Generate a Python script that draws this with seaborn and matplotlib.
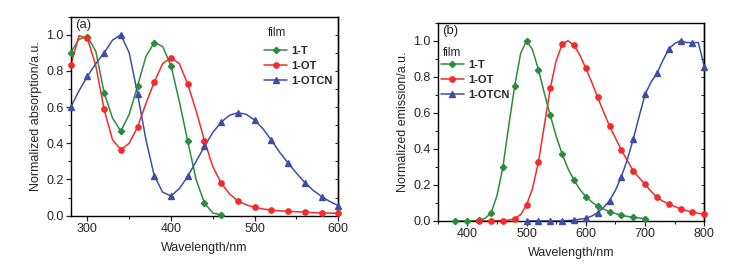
import numpy as np
import pandas as pd
import matplotlib
matplotlib.use("Agg")
import matplotlib.pyplot as plt
import seaborn as sns
from matplotlib.lines import Line2D
from matplotlib.ticker import MultipleLocator

# ---- (a) absorption, markers every 20 nm ----
abs_wl = [280, 300, 320, 340, 360, 380, 400, 420, 440, 460, 480, 500, 520, 540, 560, 580, 600]
abs_T = [0.90, 0.99, 0.68, 0.467, 0.717, 0.957, 0.828, 0.411, 0.069, 0.004]
abs_OT = [0.83, 0.98, 0.587, 0.365, 0.49, 0.739, 0.874, 0.726, 0.415, 0.18, 0.081, 0.046,
          0.031, 0.024, 0.02, 0.015, 0.013]
abs_OTCN = [0.60, 0.77, 0.90, 1.0, 0.674, 0.22, 0.109, 0.217, 0.383, 0.517, 0.569, 0.528,
            0.417, 0.291, 0.183, 0.106, 0.056]

# smooth curve traces (10 nm)
abs_line_wl = [280, 290, 300, 310, 320, 330, 340, 350, 360, 370, 380, 390, 400, 410, 420,
               430, 440, 450, 460, 470, 480, 490, 500, 510, 520, 530, 540, 550, 560, 570,
               580, 590, 600]
abs_T_line = [0.90, 0.975, 0.99, 0.91, 0.68, 0.54, 0.467, 0.56, 0.717, 0.88, 0.957, 0.935,
              0.828, 0.63, 0.411, 0.20, 0.069, 0.015, 0.004]
abs_OT_line = [0.83, 0.995, 0.98, 0.83, 0.587, 0.42, 0.365, 0.40, 0.49, 0.62, 0.739, 0.84,
               0.874, 0.84, 0.726, 0.58, 0.415, 0.27, 0.18, 0.12, 0.081, 0.06, 0.046, 0.037,
               0.031, 0.027, 0.024, 0.022, 0.02, 0.017, 0.015, 0.014, 0.013]
abs_OTCN_line = [0.60, 0.69, 0.77, 0.84, 0.90, 0.97, 1.0, 0.90, 0.674, 0.42, 0.22, 0.13,
                 0.109, 0.15, 0.217, 0.30, 0.383, 0.46, 0.517, 0.555, 0.569, 0.56, 0.528,
                 0.48, 0.417, 0.35, 0.291, 0.235, 0.183, 0.14, 0.106, 0.078, 0.056]

# ---- (b) emission, markers every 20 nm ----
em_T_wl = [380, 400, 420, 440, 460, 480, 500, 520, 540, 560, 580, 600, 620, 640, 660, 680, 700]
em_T = [0.0, 0.0, 0.003, 0.043, 0.298, 0.75, 1.0, 0.84, 0.586, 0.372, 0.227, 0.135, 0.083,
        0.052, 0.031, 0.02, 0.013]
em_OT_wl = [420, 440, 460, 480, 500, 520, 540, 560, 580, 600, 620, 640, 660, 680, 700, 720,
            740, 760, 780, 800]
em_OT = [0.0, 0.0, 0.002, 0.013, 0.089, 0.327, 0.736, 0.98, 0.976, 0.847, 0.686, 0.527, 0.394,
         0.279, 0.203, 0.131, 0.094, 0.067, 0.048, 0.037]
em_OTCN_wl = [500, 520, 540, 560, 580, 600, 620, 640, 660, 680, 700, 720, 740, 760, 780, 800]
em_OTCN = [0.0, 0.0, 0.0, 0.0, 0.005, 0.015, 0.046, 0.113, 0.246, 0.453, 0.702, 0.819, 0.954,
           1.0, 0.989, 0.856]

em_T_line_wl = [380, 400, 420, 430, 440, 450, 460, 470, 480, 490, 500, 510, 520, 530, 540, 550,
                560, 570, 580, 590, 600, 610, 620, 630, 640, 660, 680, 700]
em_T_line = [0.0, 0.0, 0.003, 0.015, 0.043, 0.14, 0.298, 0.53, 0.75, 0.93, 1.0, 0.95, 0.84,
             0.71, 0.586, 0.47, 0.372, 0.29, 0.227, 0.175, 0.135, 0.105, 0.083, 0.066, 0.052,
             0.031, 0.02, 0.013]
em_OT_line_wl = [420, 440, 460, 470, 480, 490, 500, 510, 520, 530, 540, 550, 560, 570, 580,
                 590, 600, 610, 620, 630, 640, 650, 660, 670, 680, 690, 700, 710, 720, 730,
                 740, 760, 780, 800]
em_OT_line = [0.0, 0.0, 0.002, 0.005, 0.013, 0.035, 0.089, 0.18, 0.327, 0.53, 0.736, 0.89,
              0.98, 1.0, 0.976, 0.92, 0.847, 0.77, 0.686, 0.605, 0.527, 0.46, 0.394, 0.335,
              0.279, 0.24, 0.203, 0.165, 0.131, 0.11, 0.094, 0.067, 0.048, 0.037]
em_OTCN_line_wl = [500, 520, 540, 560, 580, 600, 610, 620, 630, 640, 650, 660, 670, 680, 690,
                   700, 710, 720, 730, 740, 750, 760, 770, 780, 790, 800]
em_OTCN_line = [0.0, 0.0, 0.0, 0.0, 0.005, 0.015, 0.027, 0.046, 0.075, 0.113, 0.17, 0.246,
                0.34, 0.453, 0.58, 0.702, 0.77, 0.819, 0.89, 0.954, 0.985, 1.0, 0.99, 0.989,
                0.99, 0.856]

names = ["1-T", "1-OT", "1-OTCN"]
colors = {"1-T": "#2e8b3e", "1-OT": "#f52a2a", "1-OTCN": "#3d4ea6"}
markers = {"1-T": "D", "1-OT": "o", "1-OTCN": "^"}
msize = {"1-T": 3.2, "1-OT": 3.8, "1-OTCN": 4.0}

sns.set_style("white")
plt.rcParams["font.family"] = ["Liberation Sans", "DejaVu Sans"]
plt.rcParams["font.size"] = 9

fig = plt.figure(figsize=(7.3, 2.64), dpi=100)
ax_a = fig.add_axes([0.0968, 0.183, 0.3666, 0.754])
ax_b = fig.add_axes([0.5996, 0.163, 0.3652, 0.751])


def draw(ax, lines, points):
    for name in names:
        lx, ly = lines[name]
        sns.lineplot(x=lx, y=ly, ax=ax, color=colors[name], lw=1.1, sort=False,
                     legend=False, estimator=None)
        px, py = points[name]
        ax.plot(px, py, ls="none", marker=markers[name], ms=msize[name],
                color=colors[name], mec=colors[name], clip_on=False, zorder=3)


def style(ax, xlim, xmajor, xlabel, ylabel):
    ax.set_xlim(*xlim)
    ax.set_ylim(0, 1.1)
    ax.xaxis.set_major_locator(MultipleLocator(xmajor))
    ax.xaxis.set_minor_locator(MultipleLocator(xmajor / 2))
    ax.yaxis.set_minor_locator(MultipleLocator(0.1))
    ax.set_yticks([0, 0.2, 0.4, 0.6, 0.8, 1.0])
    ax.set_yticklabels(["0.0", "0.2", "0.4", "0.6", "0.8", "1.0"])
    ax.tick_params(axis="both", which="major", direction="out", length=3.5, width=0.9,
                   labelsize=9, pad=1.5, bottom=True, left=True)
    ax.tick_params(axis="both", which="minor", direction="out", length=2, width=0.8,
                   bottom=True, left=True)
    for sp in ax.spines.values():
        sp.set_visible(True)
        sp.set_color("black")
        sp.set_linewidth(1.0)
    sec = ax.secondary_yaxis("right")
    sec.yaxis.set_major_locator(MultipleLocator(0.2))
    sec.yaxis.set_minor_locator(MultipleLocator(0.1))
    sec.tick_params(which="both", direction="in", length=2, width=0.7, labelright=False)
    sec.spines["right"].set_linewidth(1.0)
    ax.set_xlabel(xlabel, fontsize=9, labelpad=5)
    ax.set_ylabel(ylabel, fontsize=9, labelpad=3)


def legend(ax, anchor, title_xy):
    handles = [Line2D([0], [0], color=colors[n], marker=markers[n], ms=msize[n],
                      lw=1.1) for n in names]
    ax.legend(handles, names, loc="upper left", bbox_to_anchor=anchor,
              frameon=False, prop={"weight": "bold", "size": 8},
              handlelength=2.1, handletextpad=0.35, labelspacing=0.45,
              borderaxespad=0, borderpad=0)
    ax.text(title_xy[0], title_xy[1], "film", transform=ax.transAxes, ha="left",
            va="center", fontsize=8.5)


draw(ax_a,
     {"1-T": (abs_line_wl[:len(abs_T_line)], abs_T_line),
      "1-OT": (abs_line_wl, abs_OT_line),
      "1-OTCN": (abs_line_wl, abs_OTCN_line)},
     {"1-T": (abs_wl[:len(abs_T)], abs_T),
      "1-OT": (abs_wl, abs_OT),
      "1-OTCN": (abs_wl, abs_OTCN)})
style(ax_a, (280, 600), 100, "Wavelength/nm", "Normalized absorption/a.u.")
legend(ax_a, (0.722, 0.852), (0.737, 0.918))
ax_a.text(0.015, 0.99, "(a)", transform=ax_a.transAxes, ha="left", va="top", fontsize=9.5)

draw(ax_b,
     {"1-T": (em_T_line_wl, em_T_line),
      "1-OT": (em_OT_line_wl, em_OT_line),
      "1-OTCN": (em_OTCN_line_wl, em_OTCN_line)},
     {"1-T": (em_T_wl, em_T),
      "1-OT": (em_OT_wl, em_OT),
      "1-OTCN": (em_OTCN_wl, em_OTCN)})
style(ax_b, (350, 800), 100, "Wavelength/nm", "Normalized emission/a.u.")
legend(ax_b, (0.011, 0.81), (0.018, 0.847))
ax_b.text(0.015, 0.99, "(b)", transform=ax_b.transAxes, ha="left", va="top", fontsize=9.5)

fig.savefig("out.png", dpi=100)
